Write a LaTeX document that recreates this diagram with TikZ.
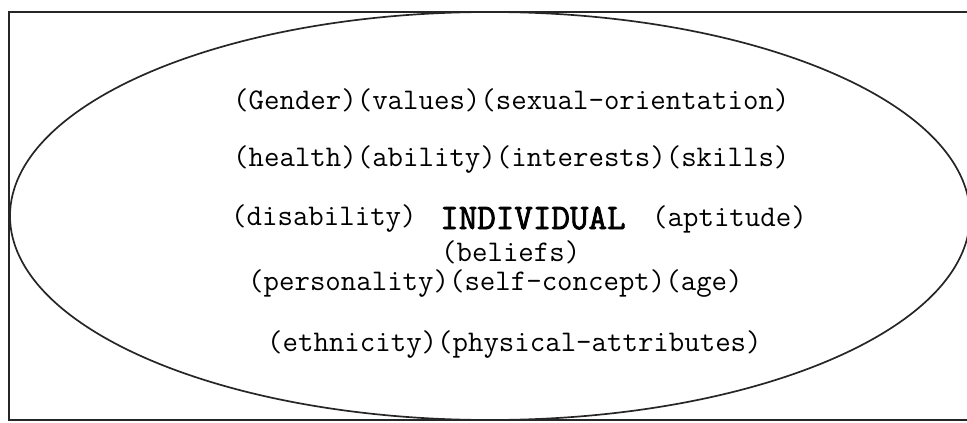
\documentclass[tikz,border=0pt]{standalone}
\usepackage{fontspec}
\newfontfamily\indivfont[FakeBold=2.2]{Latin Modern Mono}
\begin{document}
\begin{tikzpicture}[x=1pt,y=-1pt,
  lbl/.style={inner sep=0pt,anchor=west,font=\ttfamily\fontsize{30}{32}\selectfont},
  big/.style={inner sep=0pt,anchor=west,font=\indivfont\fontsize{36}{38}\selectfont},
  frame/.style={draw=black!85,line width=1.8pt},
  oval/.style={draw=black!85,line width=1.7pt}]
\useasboundingbox (0,0) rectangle (967,423);
\draw[frame] (975,12) -- (9,12) -- (9,420) -- (975,420);
\draw[oval] (490,216) ellipse [x radius=480, y radius=204];
\node[lbl] (l1) at (233,100) {(Gender)(values)(sexual-orientation)};
\node[lbl] (l2) at (233,160) {(health)(ability)(interests)(skills)};
\node[lbl] (l3a) at (231,219) {(disability)};
\node[big] (ind) at (440,218) {INDIVIDUAL};
\node[lbl] (l3b) at (652,219) {(aptitude)};
\node[lbl] (l4) at (441,252) {(beliefs)};
\node[lbl] (l5) at (248,284) {(personality)(self-concept)(age)};
\node[lbl] (l6) at (267,345) {(ethnicity)(physical-attributes)};
\end{tikzpicture}
\end{document}
